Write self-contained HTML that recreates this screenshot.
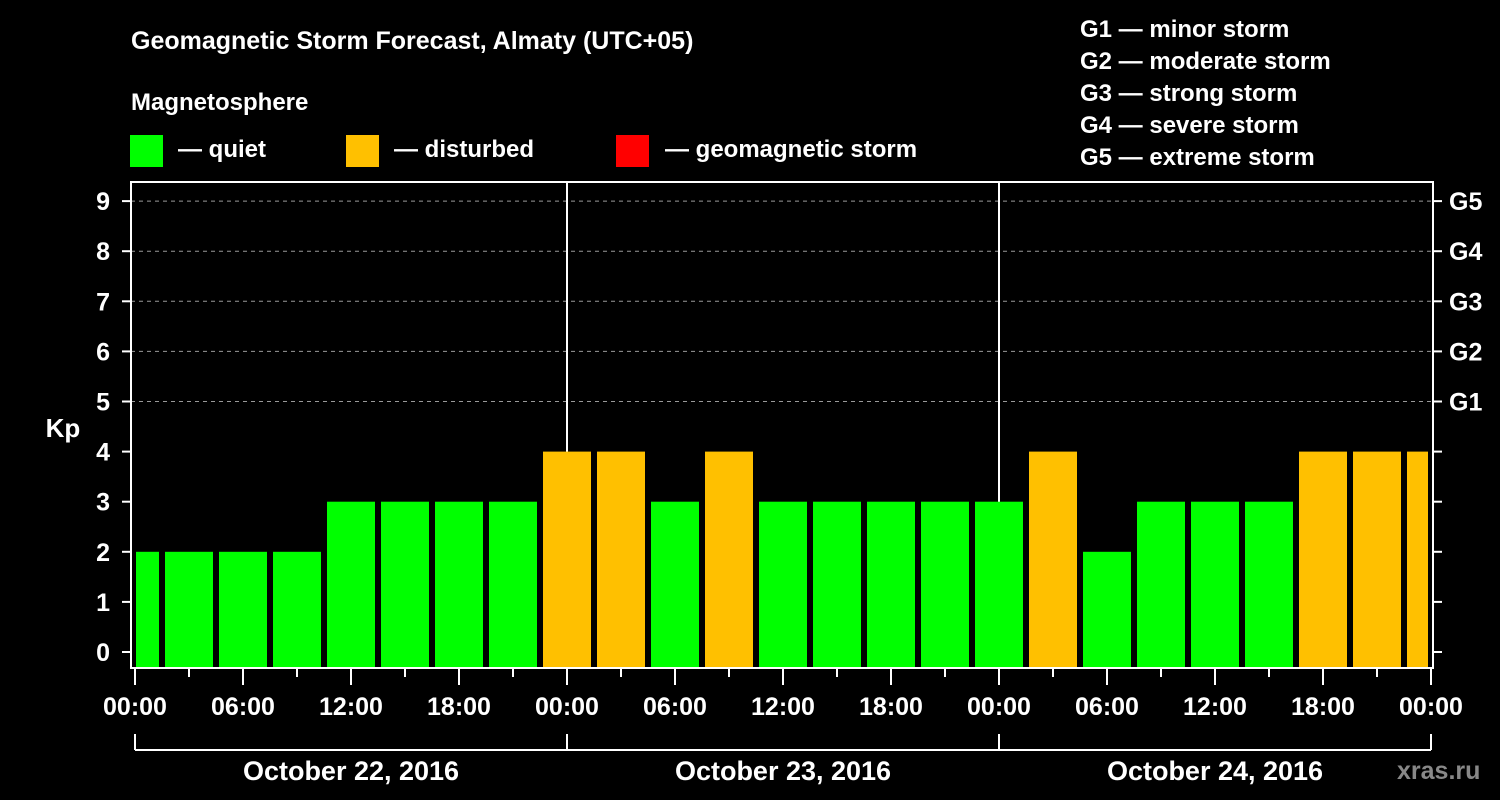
<!DOCTYPE html>
<html><head><meta charset="utf-8"><style>
html,body{margin:0;padding:0;background:#000;}
svg{display:block;font-family:"Liberation Sans",Arial,sans-serif;font-weight:bold;}
</style></head><body>
<svg id="chart" width="1500" height="800" viewBox="0 0 1500 800" xmlns="http://www.w3.org/2000/svg">
<rect width="1500" height="800" fill="#000"/>
<text x="131" y="49" fill="#fff" font-size="25">Geomagnetic Storm Forecast, Almaty (UTC+05)</text>
<text x="131" y="110" fill="#fff" font-size="24">Magnetosphere</text>
<g><rect x="130" y="135" width="33" height="32" fill="#00ff00"/><text x="178" y="157" fill="#fff" font-size="24">— quiet</text></g>
<g><rect x="346" y="135" width="33" height="32" fill="#ffc000"/><text x="394" y="157" fill="#fff" font-size="24">— disturbed</text></g>
<g><rect x="616" y="135" width="33" height="32" fill="#ff0000"/><text x="665" y="157" fill="#fff" font-size="24">— geomagnetic storm</text></g>
<g fill="#fff" font-size="24">
<text x="1080" y="37">G1 — minor storm</text>
<text x="1080" y="69">G2 — moderate storm</text>
<text x="1080" y="101">G3 — strong storm</text>
<text x="1080" y="133">G4 — severe storm</text>
<text x="1080" y="165">G5 — extreme storm</text>
</g>
<text x="63" y="437" fill="#fff" font-size="26" text-anchor="middle">Kp</text>
<text x="1397" y="779" fill="#888" font-size="25">xras.ru</text>
<g id="grid"></g><g id="bars"></g><g id="axes"></g>
</svg>
<script>
const kpValues=[2,2,2,2,3,3,3,3,4,4,3,4,3,3,3,3,3,4,2,3,3,3,4,4,4];
const yTicks=[0,1,2,3,4,5,6,7,8,9];
const gLabels=["G1","G2","G3","G4","G5"];
const gLevels=[5,6,7,8,9];
const xTickLabels=["00:00","06:00","12:00","18:00","00:00","06:00","12:00","18:00","00:00","06:00","12:00","18:00","00:00"];
const dayLabels=["October 22, 2016","October 23, 2016","October 24, 2016"];
const NS="http://www.w3.org/2000/svg";
const L=131,R=1433,T=182,B=668,X0=135,PXH=18;
const y=v=>652-v*50.1;
const x=h=>X0+h*PXH;
function mk(tag,attrs,parent,txt){const e=document.createElementNS(NS,tag);for(const k in attrs)e.setAttribute(k,attrs[k]);if(txt!==undefined)e.textContent=txt;parent.appendChild(e);return e;}
const grid=document.getElementById('grid'),bars=document.getElementById('bars'),axes=document.getElementById('axes');
gLevels.forEach((g,i)=>{
 const l=mk('line',{x1:L,x2:R,y1:y(g),y2:y(g),stroke:'#999','stroke-width':1,'stroke-dasharray':'4,4'},grid);
 
 
 const t=mk('text',{x:1449,y:y(g)+9,fill:'#fff','font-size':25},axes,gLabels[i]);
 
 
});
kpValues.forEach((v,k)=>{
 const h0=-1.5+3*k;
 let x1=x(h0)+3,x2=x(h0+3)-3;
 x1=Math.max(x1,L+5);x2=Math.min(x2,R-5);
 const c=v>=5?'#ff0000':(v>=4?'#ffc000':'#00ff00');
 const r=mk('rect',{x:x1,y:y(v),width:x2-x1,height:B-y(v),fill:c},bars);
 
 
});
[1,2].forEach(d=>{
 const l=mk('line',{x1:x(24*d),x2:x(24*d),y1:T,y2:B,stroke:'#fff','stroke-width':2},grid);
 
 
});
const fr=mk('rect',{x:L,y:T,width:R-L,height:B-T,fill:'none',stroke:'#fff','stroke-width':2},axes);


yTicks.forEach(v=>{
 mk('line',{x1:122,x2:L,y1:y(v),y2:y(v),stroke:'#fff','stroke-width':2},axes);
 mk('line',{x1:R,x2:1442,y1:y(v),y2:y(v),stroke:'#fff','stroke-width':2},axes);
 const t=mk('text',{x:110,y:y(v)+9,fill:'#fff','font-size':25,'text-anchor':'end'},axes,String(v));
 
 
});
for(let h=0;h<=72;h+=3){
 const major=h%6===0;
 mk('line',{x1:x(h),x2:x(h),y1:B,y2:major?685:677,stroke:'#fff','stroke-width':2},axes);
}
xTickLabels.forEach((s,i)=>{
 const t=mk('text',{x:x(i*6),y:715,fill:'#fff','font-size':25,'text-anchor':'middle'},axes,s);
 
 
});
mk('line',{x1:x(0),x2:x(72),y1:750,y2:750,stroke:'#fff','stroke-width':2},axes);
for(let d=0;d<=3;d++)mk('line',{x1:x(24*d),x2:x(24*d),y1:734,y2:750,stroke:'#fff','stroke-width':2},axes);
dayLabels.forEach((s,i)=>{
 const t=mk('text',{x:x(24*i+12),y:780,fill:'#fff','font-size':27,'text-anchor':'middle'},axes,s);
 
 
});
</script>
</body></html>
